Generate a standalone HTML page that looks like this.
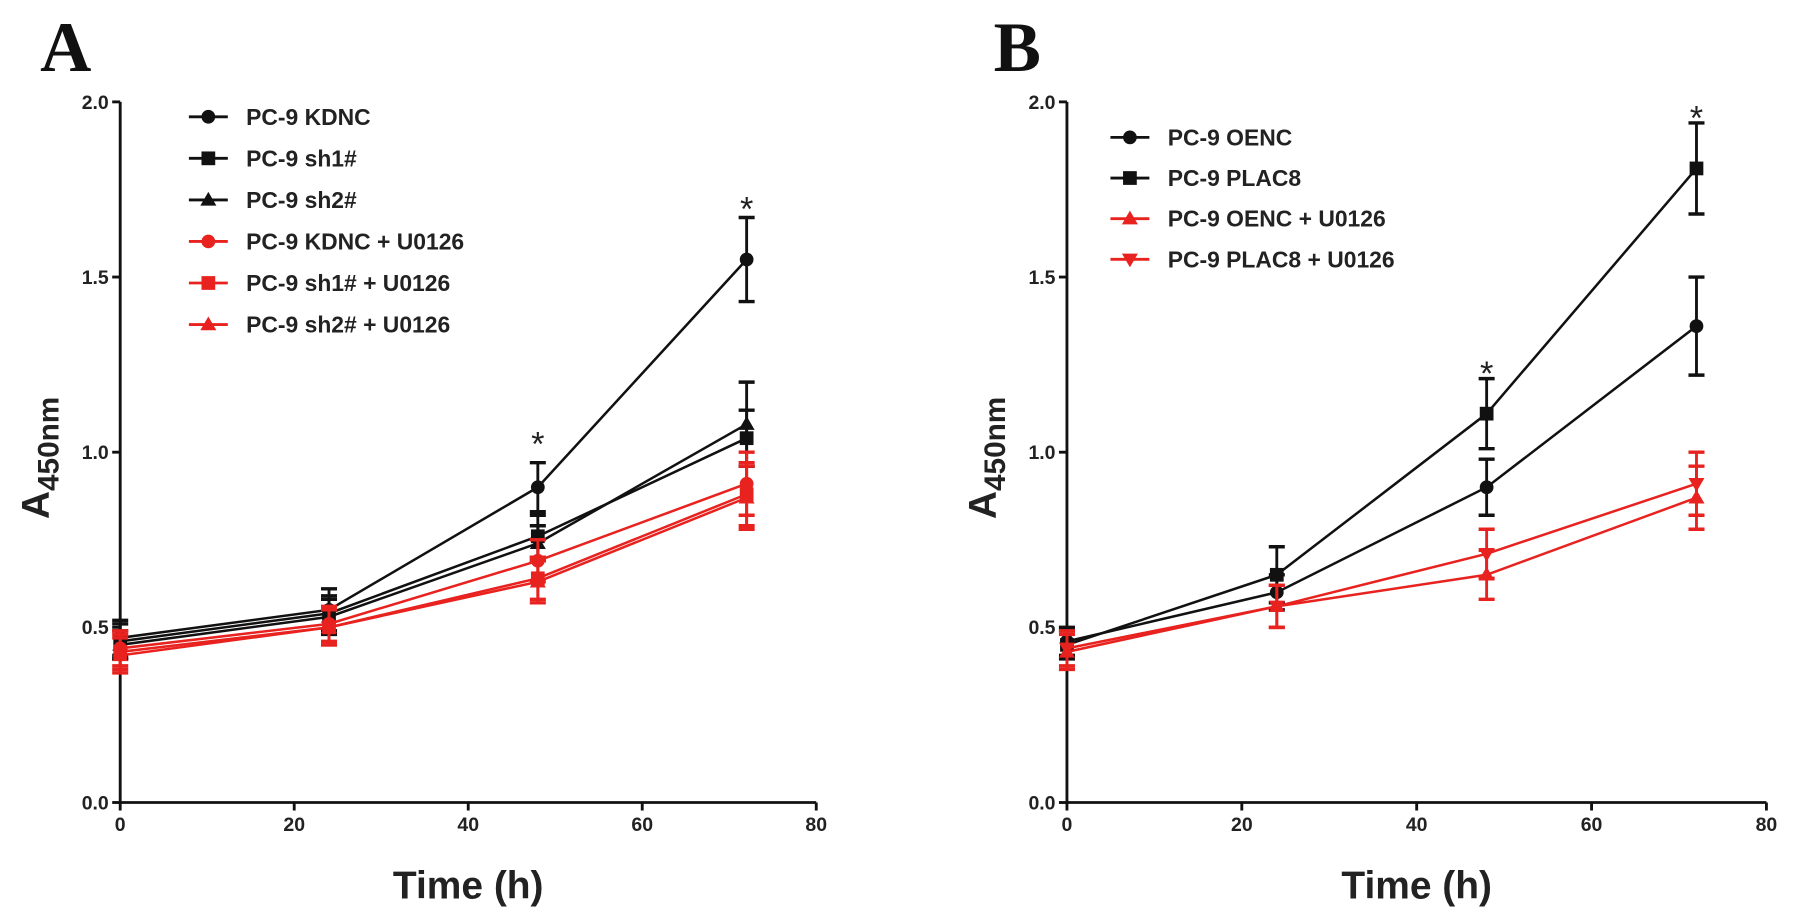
<!DOCTYPE html>
<html><head><meta charset="utf-8"><style>
body{margin:0;background:#fff}
svg{display:block;font-family:"Liberation Sans",Arial,sans-serif}
</style></head><body>
<svg id="c" width="1795" height="920" viewBox="0 0 1795 920"></svg>
<script>
const times=[0,24,48,72];
const xTicks=[0,20,40,60,80];
const yTicks=[0.0,0.5,1.0,1.5,2.0];
const aNames=["PC-9 KDNC","PC-9 sh1#","PC-9 sh2#","PC-9 KDNC + U0126","PC-9 sh1# + U0126","PC-9 sh2# + U0126"];
const aMarkers=["circle","square","tri","circle","square","tri"];
const aColors=["#111","#111","#111","#e8221f","#e8221f","#e8221f"];
const aKDNC=[0.47,0.55,0.90,1.55];
const aSh1=[0.46,0.54,0.76,1.04];
const aSh2=[0.45,0.53,0.74,1.08];
const aKDNCU=[0.44,0.51,0.69,0.91];
const aSh1U=[0.43,0.50,0.64,0.88];
const aSh2U=[0.42,0.50,0.63,0.87];
const aErrKDNC=[0.05,0.06,0.07,0.12];
const aErrSh1=[0.05,0.05,0.06,0.08];
const aErrSh2=[0.04,0.05,0.05,0.12];
const aErrU=[0.05,0.05,0.06,0.09];
const bNames=["PC-9 OENC","PC-9 PLAC8","PC-9 OENC + U0126","PC-9 PLAC8 + U0126"];
const bMarkers=["circle","square","tri","tridown"];
const bColors=["#111","#111","#e8221f","#e8221f"];
const bOENC=[0.46,0.60,0.90,1.36];
const bPLAC8=[0.45,0.65,1.11,1.81];
const bOENCU=[0.43,0.56,0.65,0.87];
const bPLAC8U=[0.44,0.56,0.71,0.91];
const bErrOENC=[0.04,0.05,0.08,0.14];
const bErrPLAC8=[0.04,0.08,0.10,0.13];
const bErrU=[0.05,0.06,0.07,0.09];

const NS="http://www.w3.org/2000/svg";
const svg=document.getElementById('c');
const root=document.createElementNS(NS,'g');
root.setAttribute('transform','scale(1.1448)');


svg.appendChild(root);
function mk(tag,attrs,parent){const e=document.createElementNS(NS,tag);for(const k in attrs)e.setAttribute(k,attrs[k]);(parent||root).appendChild(e);return e;}
function marker(g,type,x,y,col){
  let e;
  if(type==="circle")e=mk('circle',{cx:x,cy:y,r:6,fill:col},g);
  else if(type==="square")e=mk('rect',{x:x-6,y:y-6,width:12,height:12,fill:col},g);
  else if(type==="tri")e=mk('polygon',{points:`${x},${y-7} ${x-7},${y+5} ${x+7},${y+5}`,fill:col},g);
  else e=mk('polygon',{points:`${x},${y+7} ${x-7},${y-5} ${x+7},${y-5}`,fill:col},g);
  
  
}
function panel(x0,x1,series,errs,names,markers,colors,leg,stars){
  const yB=701,yT=89;
  const X=v=>x0+(x1-x0)*v/80, Y=v=>yB-(yB-yT)*v/2;
  const ax=mk('g',{});
  
  
  mk('line',{x1:x0,y1:yT,x2:x0,y2:yB,stroke:'#111','stroke-width':2.5},ax);
  mk('line',{x1:x0,y1:yB,x2:x1,y2:yB,stroke:'#111','stroke-width':2.5},ax);
  yTicks.forEach(v=>{mk('line',{x1:x0-7,y1:Y(v),x2:x0,y2:Y(v),stroke:'#111','stroke-width':2.5},ax);
    const t=mk('text',{x:x0-10,y:Y(v)+6,'text-anchor':'end','font-size':17,'font-weight':'bold',fill:'#222'},ax);t.textContent=v.toFixed(1);
    });
  xTicks.forEach(v=>{mk('line',{x1:X(v),y1:yB,x2:X(v),y2:yB+7,stroke:'#111','stroke-width':2.5},ax);
    const t=mk('text',{x:X(v),y:yB+25,'text-anchor':'middle','font-size':17,'font-weight':'bold',fill:'#222'},ax);t.textContent=v;
    });
  series.forEach((s,i)=>{
    const g=mk('g',{});
    
    
    mk('polyline',{points:s.map((v,j)=>X(times[j])+','+Y(v)).join(' '),fill:'none',stroke:colors[i],'stroke-width':2.2},g);
    s.forEach((v,j)=>{const e=errs[i][j],x=X(times[j]);
      mk('line',{x1:x,y1:Y(v-e),x2:x,y2:Y(v+e),stroke:colors[i],'stroke-width':2.5},g);
      mk('line',{x1:x-7,y1:Y(v+e),x2:x+7,y2:Y(v+e),stroke:colors[i],'stroke-width':3},g);
      mk('line',{x1:x-7,y1:Y(v-e),x2:x+7,y2:Y(v-e),stroke:colors[i],'stroke-width':3},g);
      marker(g,markers[i],x,Y(v),colors[i]);});
  });
  stars.forEach(st=>{const t=mk('text',{x:X(st[0]),y:Y(st[1])+18,'text-anchor':'middle','font-size':30,fill:'#222'});t.textContent='*';
    });
  names.forEach((n,i)=>{const g=mk('g',{});
    
    
    const y=leg.y+i*leg.dy;
    mk('line',{x1:leg.x,y1:y,x2:leg.x+34,y2:y,stroke:colors[i],'stroke-width':2.5},g);
    marker(g,markers[i],leg.x+17,y,colors[i]);
    const t=mk('text',{x:leg.x+50,y:y+7,'font-size':20,'font-weight':'bold',fill:'#222'},g);t.textContent=n;});
  const xl=mk('text',{x:(x0+x1)/2,y:785,'text-anchor':'middle','font-size':34,'font-weight':'bold',fill:'#222'});xl.textContent='Time (h)';
  
  const yl=mk('text',{transform:`translate(${x0-62},${400}) rotate(-90)`,'text-anchor':'middle','font-size':34,'font-weight':'bold',fill:'#222'});
  
  const a=mk('tspan',{},yl);a.textContent='A';
  const s=mk('tspan',{'font-size':26,dy:8},yl);s.textContent='450nm';
}
panel(105,713,[aKDNC,aSh1,aSh2,aKDNCU,aSh1U,aSh2U],[aErrKDNC,aErrSh1,aErrSh2,aErrU,aErrU,aErrU],aNames,aMarkers,aColors,{x:165,y:102,dy:36.3},[[48,1.05],[72,1.72]]);
panel(932,1543,[bOENC,bPLAC8,bOENCU,bPLAC8U],[bErrOENC,bErrPLAC8,bErrU,bErrU],bNames,bMarkers,bColors,{x:970,y:120,dy:35.5},[[48,1.25],[72,1.98]]);
[["A",35],["B",868]].forEach(p=>{const t=mk('text',{x:p[1],y:62,'font-size':62,'font-weight':'bold','font-family':'Liberation Serif,serif',fill:'#111'});t.textContent=p[0];
  });
</script>
</body></html>
